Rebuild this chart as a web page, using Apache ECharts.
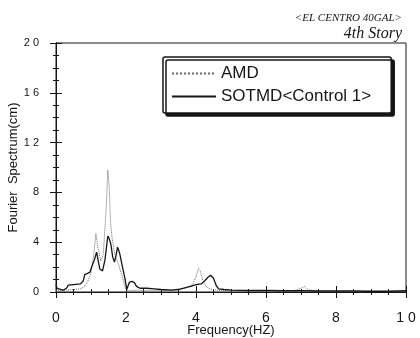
<!DOCTYPE html>
<html>
<head>
<meta charset="utf-8">
<script src="https://cdn.jsdelivr.net/npm/echarts@6/dist/echarts.min.js"></script>
<style>
  html, body { margin: 0; padding: 0; background: #fff; }
  #chart { width: 420px; height: 338px; }
</style>
</head>
<body>
<div id="chart"></div>
<script>
// SOTMD<Control 1> - solid line
var sotmdFreq = [0, 0.03, 0.08, 0.2, 0.3, 0.35, 0.5, 0.7, 0.78, 0.82, 0.9, 0.97, 1.03, 1.1, 1.16, 1.2, 1.25, 1.33, 1.4, 1.48, 1.52, 1.57, 1.62, 1.67, 1.72, 1.76, 1.82, 1.9, 1.97, 2.02, 2.06, 2.1, 2.17, 2.24, 2.3, 2.4, 2.6, 2.8, 3.0, 3.3, 3.5, 3.7, 3.85, 4.0, 4.15, 4.25, 4.35, 4.42, 4.5, 4.58, 4.65, 4.8, 5.0, 5.5, 6.0, 6.5, 7.0, 7.5, 8.0, 8.5, 9.0, 9.5, 10];
var sotmdVal  = [0.6, 0.3, 0.15, 0.15, 0.3, 0.55, 0.6, 0.65, 0.9, 1.4, 1.5, 1.6, 2.1, 2.6, 3.2, 2.6, 1.85, 1.7, 2.6, 4.5, 4.3, 3.8, 2.8, 2.4, 3.0, 3.6, 3.1, 2.0, 1.1, 0.2, 0.5, 0.8, 0.85, 0.75, 0.45, 0.3, 0.3, 0.25, 0.2, 0.15, 0.2, 0.35, 0.45, 0.6, 0.65, 0.9, 1.2, 1.35, 1.1, 0.5, 0.25, 0.2, 0.15, 0.12, 0.12, 0.1, 0.1, 0.08, 0.08, 0.08, 0.06, 0.06, 0.1];

// AMD - dotted line
var amdFreq = [0, 0.1, 0.3, 0.5, 0.7, 0.8, 0.9, 1.0, 1.08, 1.14, 1.2, 1.28, 1.35, 1.4, 1.44, 1.48, 1.52, 1.56, 1.6, 1.65, 1.7, 1.75, 1.8, 1.85, 1.9, 1.95, 2.0, 2.1, 2.3, 2.6, 3.0, 3.4, 3.7, 3.9, 4.0, 4.07, 4.12, 4.2, 4.3, 4.4, 4.6, 5.0, 6.0, 6.8, 7.0, 7.1, 7.2, 7.4, 8, 9, 10];
var amdVal  = [0.1, 0.1, 0.15, 0.2, 0.25, 0.4, 0.8, 1.5, 3.0, 4.7, 3.5, 2.5, 3.0, 5.2, 7.0, 9.8, 8.5, 5.5, 4.4, 3.5, 2.8, 2.5, 2.1, 1.6, 1.2, 0.6, 0.2, 0.1, 0.15, 0.1, 0.1, 0.2, 0.3, 0.6, 1.2, 1.9, 1.7, 0.9, 0.4, 0.25, 0.15, 0.1, 0.08, 0.1, 0.3, 0.45, 0.2, 0.08, 0.05, 0.05, 0.05];

var xTicks = [0, 2, 4, 6, 8, 10];
var yTicks = [0, 4, 8, 12, 16, 20];

function pairs(xs, ys) {
  return xs.map(function (x, i) { return [x, ys[i]]; });
}

var chart = echarts.init(document.getElementById('chart'));

var ink = '#161616';

var option = {
  backgroundColor: '#fff',
  animation: false,
  title: [
    {
      text: '<EL CENTRO 40GAL>',
      right: 13, top: 8,
      textStyle: { fontFamily: 'Liberation Serif', fontStyle: 'italic', fontWeight: 'normal', fontSize: 11, color: ink }
    },
    {
      text: '4th Story',
      right: 13, top: 21,
      textStyle: { fontFamily: 'Liberation Serif', fontStyle: 'italic', fontWeight: 'normal', fontSize: 16, color: ink }
    }
  ],
  legend: {
    data: ['AMD', 'SOTMD<Control 1>'],
    orient: 'vertical',
    left: 163, top: 57,
    itemWidth: 44, itemHeight: 10,
    itemGap: 6,
    padding: [8, 20, 8, 8],
    backgroundColor: '#fff',
    borderColor: ink, borderWidth: 1.5, borderRadius: 2,
    shadowColor: ink, shadowBlur: 0, shadowOffsetX: 3, shadowOffsetY: 3,
    itemStyle: { opacity: 0 },
    textStyle: { fontFamily: 'Liberation Sans', fontSize: 17, color: ink }
  },
  grid: { left: 56, right: 14, top: 43, bottom: 46, show: true, borderColor: ink, borderWidth: 1, outerBoundsMode: 'none' },
  xAxis: [
    {
      type: 'value', min: 0, max: 10, interval: 2,
      name: 'Frequency(HZ)', nameLocation: 'middle', nameGap: 32, nameMoveOverlap: false,
      nameTextStyle: { fontFamily: 'Liberation Sans', fontSize: 13, color: ink },
      axisLine: { show: true, lineStyle: { color: ink } },
      axisTick: { inside: true, length: 6, lineStyle: { color: ink } },
      minorTick: { show: true, splitNumber: 4, length: 3, lineStyle: { color: ink } },
      axisLabel: {
        margin: 19, fontFamily: 'Liberation Sans', fontSize: 14, color: ink,
        formatter: function (v) { return xTicks.indexOf(v) >= 0 ? String(v).split('').join(' ') : ''; }
      },
      splitLine: { show: false }
    },
    {
      type: 'value', min: 0, max: 10, interval: 2, position: 'top',
      axisLine: { show: true, lineStyle: { color: ink } },
      axisTick: { inside: true, length: 6, lineStyle: { color: ink } },
      minorTick: { show: true, splitNumber: 4, length: 3, lineStyle: { color: ink } },
      axisLabel: { show: false },
      splitLine: { show: false }
    }
  ],
  yAxis: [
    {
      type: 'value', min: 0, max: 20, interval: 4,
      name: 'Fourier  Spectrum(cm)', nameLocation: 'middle', nameGap: 36, nameMoveOverlap: false,
      nameTextStyle: { fontFamily: 'Liberation Sans', fontSize: 13, color: ink },
      axisLine: { show: true, lineStyle: { color: ink } },
      axisTick: { inside: true, length: 6, lineStyle: { color: ink } },
      minorTick: { show: true, splitNumber: 4, length: 3, lineStyle: { color: ink } },
      axisLabel: {
        margin: 17, fontFamily: 'Liberation Sans', fontSize: 11, color: ink,
        formatter: function (v) { return yTicks.indexOf(v) >= 0 ? String(v).split('').join(' ') : ''; }
      },
      splitLine: { show: false }
    },
    {
      type: 'value', min: 0, max: 20, interval: 4, position: 'right',
      axisLine: { show: true, lineStyle: { color: ink } },
      axisTick: { inside: true, length: 6, lineStyle: { color: ink } },
      minorTick: { show: true, splitNumber: 4, length: 3, lineStyle: { color: ink } },
      axisLabel: { show: false },
      splitLine: { show: false }
    }
  ],
  series: [
    {
      name: 'AMD',
      type: 'line',
      symbol: 'none',
      lineStyle: { color: '#6a6a6a', width: 1, type: 'dotted' },
      itemStyle: { color: '#6a6a6a' },
      data: pairs(amdFreq, amdVal)
    },
    {
      name: 'SOTMD<Control 1>',
      type: 'line',
      symbol: 'none',
      lineStyle: { color: ink, width: 1.3, type: 'solid' },
      itemStyle: { color: ink },
      data: pairs(sotmdFreq, sotmdVal)
    }
  ]
};

chart.setOption(option);
</script>
</body>
</html>
